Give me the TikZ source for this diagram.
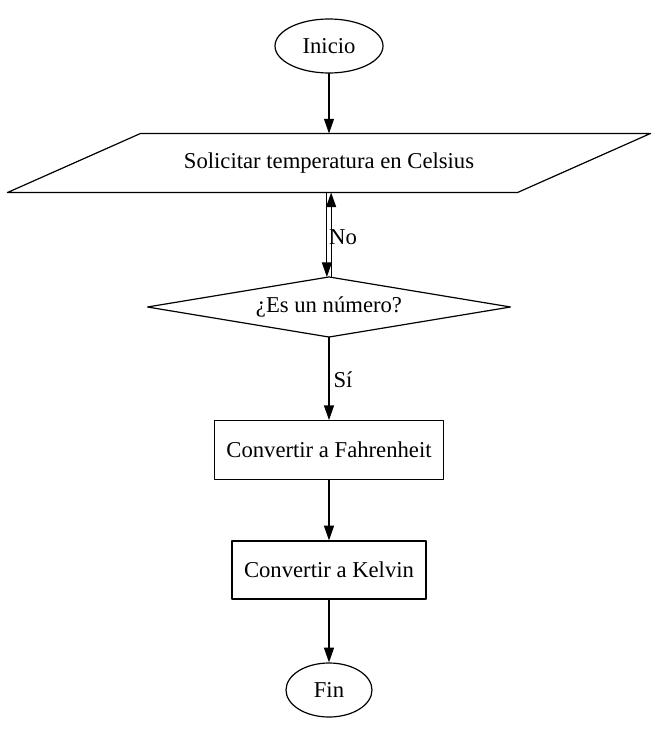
\documentclass[tikz,border=0pt]{standalone}
\usepackage{fontspec}
\setmainfont{Liberation Serif}
\usetikzlibrary{shapes.geometric}
\usetikzlibrary{arrows.meta}

\begin{document}
\begin{tikzpicture}[line cap=round,line join=round,x=0.75pt,y=-0.75pt, thick,
    font=\fontsize{17}{20}\selectfont,
    flecha/.style={-{Triangle[length=11pt,width=7.5pt]}, line width=0.9pt},
    term/.style={ellipse, draw, line width=0.9pt, inner sep=0pt, minimum height=40.5pt},
    caja/.style={rectangle, draw, line width=0.9pt, inner sep=0pt, minimum height=44pt},
    hueco/.style={inner sep=0pt}]
                    \useasboundingbox (0,0) rectangle (658,730);

                    \node[term, minimum width=81pt] (inicio) at (329,46) {Inicio};
                    \node[hueco, minimum width=481.5pt, minimum height=43.5pt] (pedir) at (329,163) {Solicitar temperatura en Celsius};
                    \draw [line width=0.9pt] (pedir.south west) -- ++(510,0) -- (pedir.north east) -- ++(-510,0) -- cycle;
                    \node[hueco, minimum width=271.5pt, minimum height=44.25pt] (numero) at (329,307) {¿Es un número?};
                    \draw [line width=0.9pt] (numero.west) -- (numero.north) -- (numero.east) -- (numero.south) -- cycle;
                    \node[caja, minimum width=171.75pt] (fahr) at (329,450) {Convertir a Fahrenheit};
                    \node[caja, minimum width=145.5pt, minimum height=43.5pt] (kelvin) at (329,570) {Convertir a Kelvin};
                    \node[term, minimum width=64.5pt] (fin) at (329,690) {Fin};

                    \draw [flecha] (inicio) -- (pedir.north);
                    \draw [flecha] ([xshift=-1.6pt]pedir.south) -- ([xshift=-1.6pt]numero.north);
                    \draw [flecha] ([xshift=1.6pt]numero.north) -- ([xshift=1.6pt]pedir.south);
                    \node (no) at (343,237) {No};
                    \draw [flecha] (numero) -- (fahr);
                    \node (si) at (343,380) {Sí};
                    \draw [flecha] (fahr) -- (kelvin);
                    \draw [flecha] (kelvin) -- (fin);
                \end{tikzpicture}
\end{document}
